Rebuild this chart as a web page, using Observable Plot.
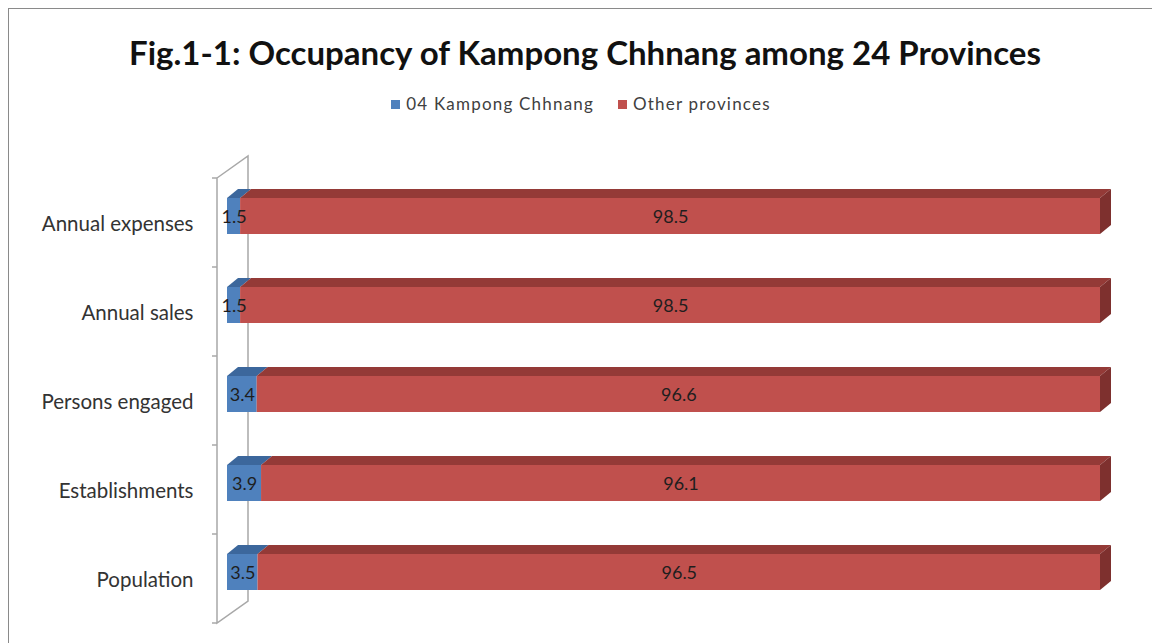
<!DOCTYPE html>
<html><head><meta charset="utf-8">
<script src="https://cdn.jsdelivr.net/npm/d3@7"></script>
<script src="https://cdn.jsdelivr.net/npm/@observablehq/plot@0.6"></script>
<style>
body{margin:0;width:1152px;height:643px;overflow:hidden;background:#fff;position:relative;font-family:Lato,"Open Sans",sans-serif;}
#frame{position:absolute;left:8px;top:8px;width:1300px;height:800px;border:1px solid #8a8a8a;box-sizing:border-box;}
#title{position:absolute;left:0;width:1170px;top:32px;text-align:center;font-weight:bold;font-size:33px;color:#111;}
#legend{position:absolute;left:0;width:1162px;top:93px;text-align:center;font-size:17px;letter-spacing:1.2px;color:#404040;}
#legend span.sw{display:inline-block;width:9px;height:9px;margin-right:6px;vertical-align:1px;}
#legend span.item{margin:0 12px;}
#chart{position:absolute;left:0;top:130px;}
</style></head>
<body>
<div id="frame"></div>
<div id="title">Fig.1-1: Occupancy of Kampong Chhnang among 24 Provinces</div>
<div id="legend"></div>
<div id="chart"></div>
<script>
const categories = ["Annual expenses", "Annual sales", "Persons engaged", "Establishments", "Population"];
const series = ["04 Kampong Chhnang", "Other provinces"];
const kampong = [1.5, 1.5, 3.4, 3.9, 3.5];
const others = [98.5, 98.5, 96.6, 96.1, 96.5];
const frontColors = ["#4F81BD", "#C0504D"];
const topColors = ["#3C679C", "#943A37"];
const sideColor = "#7E302E";

const rows = categories.flatMap((c, i) => [
  {category: c, series: series[0], value: kampong[i]},
  {category: c, series: series[1], value: others[i]}
]);

// legend
const legend = document.getElementById("legend");
series.forEach((s, i) => {
  const item = document.createElement("span");
  item.className = "item";
  item.innerHTML = `<span class="sw" style="background:${frontColors[i]}"></span>${s}`;
  legend.appendChild(item);
});

const INSET_TOP = 20, INSET_BOTTOM = 33, DX = 11, DY = 9;

function wall(index, {x, y}) {
  const bw = y.bandwidth();
  const x0 = x(0);
  const fx = x0 - 10, bx = x0 + 21, wd = 22;
  const top = y(categories[0]);
  const bot = y(categories[categories.length - 1]) + bw;
  const g = d3.create("svg:g").attr("stroke", "#a8a8a8").attr("stroke-width", 1.5).attr("fill", "none");
  g.append("path").attr("d", `M${fx},${top}V${bot}L${bx},${bot - wd}V${top - wd}L${fx},${top}`);
  const bounds = categories.map(c => y(c)).concat([bot]);
  bounds.forEach(b => g.append("line").attr("x1", fx - 5).attr("x2", fx).attr("y1", b).attr("y2", b));
  return g.node();
}

function faces(index, {x, y}) {
  const bw = y.bandwidth();
  const g = d3.create("svg:g");
  categories.forEach((c, i) => {
    const t = y(c) + INSET_TOP, b = y(c) + bw - INSET_BOTTOM;
    let s = 0;
    [kampong[i], others[i]].forEach((v, j) => {
      const a = x(s), e = x(s + v);
      s += v;
      g.append("polygon")
        .attr("points", `${a},${t} ${e},${t} ${e + DX},${t - DY} ${a + DX},${t - DY}`)
        .attr("fill", topColors[j]);
      if (j === 1) {
        g.append("polygon")
          .attr("points", `${e},${t} ${e + DX},${t - DY} ${e + DX},${b - DY} ${e},${b}`)
          .attr("fill", sideColor);
      }
    });
  });
  return g.node();
}

const plot = Plot.plot({
  width: 1152,
  height: 513,
  marginLeft: 227,
  marginRight: 52,
  marginTop: 48,
  marginBottom: 20,
  style: {fontFamily: 'Lato,"Open Sans",sans-serif', fontSize: "18px", color: "#333", background: "transparent"},
  x: {domain: [0, 100], axis: null},
  y: {domain: categories, padding: 0, axis: null},
  color: {domain: series, range: frontColors},
  marks: [
    wall,
    faces,
    Plot.barX(rows, Plot.stackX({x: "value", y: "category", fill: "series", insetTop: INSET_TOP, insetBottom: INSET_BOTTOM})),
    Plot.text(rows, Plot.stackX({x: "value", y: "category", text: d => d.value.toFixed(1), dy: -6, fontSize: 18, fill: "#1e1e1e"})),
    Plot.axisY({label: null, tickSize: 0, tickPadding: 34, dy: 1.5, fontSize: 20.5, fill: "#333"})
  ]
});
document.getElementById("chart").appendChild(plot);
</script>
</body></html>
